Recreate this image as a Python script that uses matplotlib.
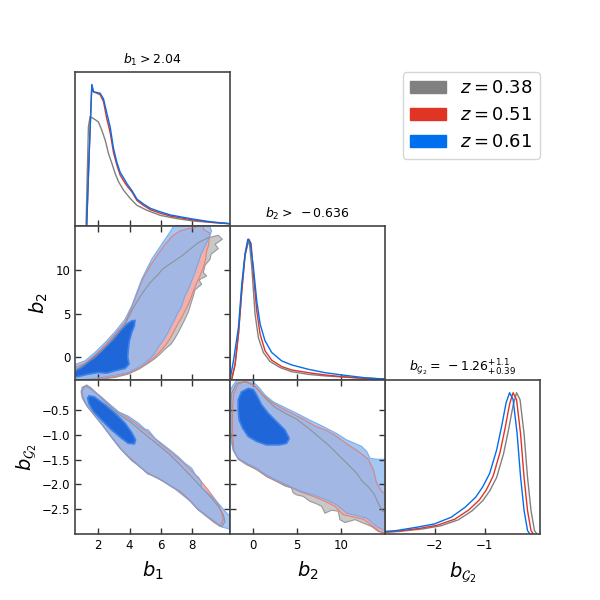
import matplotlib.pyplot as plt
from matplotlib.patches import Patch

# colours for the three redshift bins
labels = ['$z = 0.38$', '$z = 0.51$', '$z = 0.61$']
line_colors = ['#808080', '#E03424', '#006FED']
outer_fill = ['#c8c8c8', '#f2b0a9', '#8ebaf2']
edge_colors = ['#8c8c8c', '#e07a70', '#6aa6f0']

# axis ranges
b1_lim = (0.5, 10.45)
b2_lim = (-2.58, 15.0)
bg2_lim = (-3.0, 0.11)

# ---- 1D marginals (peak normalised to 1) ----
b1_gray_x = [1.21, 1.36, 1.47, 1.68, 2.0, 2.22, 2.44, 2.65, 2.87, 3.08, 3.3, 3.62, 4.05, 4.48, 5.12, 5.98, 7.06, 8.13, 10.5]
b1_gray_y = [0.004, 0.7, 0.773, 0.761, 0.737, 0.678, 0.607, 0.513, 0.442, 0.371, 0.312, 0.253, 0.194, 0.146, 0.111, 0.075, 0.052, 0.035, 0.016]
b1_x = [1.25, 1.42, 1.58, 1.68, 1.90, 2.11, 2.33, 2.54, 2.76, 2.97, 3.19, 3.40, 3.62, 3.83, 4.16, 4.48, 4.91, 5.34, 5.98, 6.63, 7.27, 8.13, 9.21, 10.5]
b1_red_y = [0.0, 0.54, 1.0, 0.95, 0.94, 0.93, 0.88, 0.76, 0.66, 0.52, 0.43, 0.36, 0.32, 0.285, 0.24, 0.18, 0.145, 0.115, 0.09, 0.07, 0.058, 0.042, 0.026, 0.015]
b1_blue_y = [0.004, 0.54, 1.0, 0.95, 0.945, 0.94, 0.90, 0.80, 0.70, 0.55, 0.45, 0.38, 0.34, 0.30, 0.25, 0.19, 0.155, 0.125, 0.10, 0.078, 0.065, 0.048, 0.03, 0.016]

b2_gray_x = [-2.38, -2.0, -1.62, -1.24, -0.87, -0.42, -0.11, 0.26, 0.64, 1.20, 1.96, 3.09, 4.41, 6.29, 8.18, 11.95, 14.97]
b2_gray_y = [0.005, 0.112, 0.326, 0.634, 0.884, 0.996, 0.80, 0.468, 0.30, 0.195, 0.131, 0.088, 0.059, 0.040, 0.029, 0.014, 0.007]
b2_red_x = [-2.38, -2.0, -1.62, -1.24, -0.87, -0.49, -0.19, 0.07, 0.45, 0.83, 1.39, 2.15, 3.28, 4.41, 6.29, 8.18, 10.07, 12.7, 14.97]
b2_red_y = [0.005, 0.112, 0.326, 0.634, 0.884, 0.996, 0.967, 0.753, 0.492, 0.326, 0.207, 0.140, 0.095, 0.071, 0.052, 0.036, 0.024, 0.012, 0.007]
b2_blue_x = [-2.57, -2.19, -1.62, -1.24, -0.87, -0.56, -0.30, 0.07, 0.45, 0.83, 1.39, 2.15, 3.28, 4.41, 6.29, 8.18, 10.07, 12.7, 14.97]
b2_blue_y = [0.005, 0.135, 0.373, 0.682, 0.896, 0.996, 0.979, 0.80, 0.563, 0.397, 0.278, 0.195, 0.135, 0.107, 0.076, 0.052, 0.036, 0.016, 0.007]

bg2_gray_x = [-3.09, -2.72, -2.24, -1.88, -1.53, -1.25, -1.04, -0.90, -0.76, -0.62, -0.52, -0.43, -0.36, -0.29, -0.21, -0.14, -0.07, 0.0, 0.04]
bg2_gray_y = [0.01, 0.018, 0.036, 0.058, 0.1, 0.165, 0.235, 0.305, 0.40, 0.57, 0.74, 0.91, 1.0, 0.95, 0.71, 0.40, 0.165, 0.024, 0.004]
bg2_red_x = [-3.09, -2.75, -2.30, -1.95, -1.60, -1.32, -1.11, -0.97, -0.83, -0.69, -0.59, -0.50, -0.43, -0.36, -0.28, -0.21, -0.14, -0.07, -0.03]
bg2_red_y = [0.012, 0.02, 0.04, 0.062, 0.105, 0.17, 0.24, 0.31, 0.41, 0.58, 0.75, 0.92, 1.0, 0.95, 0.71, 0.40, 0.165, 0.024, 0.004]
bg2_blue_x = [-3.09, -2.78, -2.36, -2.01, -1.67, -1.39, -1.18, -1.04, -0.90, -0.76, -0.66, -0.57, -0.50, -0.43, -0.35, -0.28, -0.21, -0.14, -0.10]
bg2_blue_y = [0.016, 0.024, 0.048, 0.071, 0.119, 0.19, 0.261, 0.333, 0.429, 0.595, 0.762, 0.929, 1.0, 0.952, 0.714, 0.405, 0.167, 0.024, 0.004]

# ---- 2D contours: b1 vs b2 ----
b1b2_gray_x = [0.29, 0.29, 1.78, 3.07, 3.71, 4.25, 4.78, 5.32, 5.85, 6.11, 6.71, 7.35, 7.88, 8.42, 9.06, 9.70, 9.96, 9.49, 9.70, 9.23, 9.17, 8.85, 8.74, 8.95, 8.46, 8.63, 8.20, 8.10, 7.95, 7.78, 7.56, 7.35, 7.13, 6.88, 6.66, 6.28, 5.96, 5.64, 5.21, 4.61, 3.92, 3.07, 2.21, 1.36, 0.5]
b1b2_gray_y = [-3.16, -1.72, -0.01, 2.27, 3.79, 5.69, 7.21, 8.54, 9.49, 10.06, 10.82, 11.58, 12.34, 13.10, 13.67, 13.94, 13.48, 12.91, 12.42, 11.77, 11.20, 10.52, 9.68, 9.30, 8.84, 8.35, 7.70, 7.02, 6.18, 5.20, 4.36, 3.60, 2.84, 2.08, 1.51, 0.94, 0.37, -0.12, -0.66, -1.34, -1.91, -2.29, -2.48, -2.67, -3.16]
b1b2_red_x = [0.29, 0.29, 1.14, 1.78, 2.43, 3.07, 3.71, 4.10, 4.46, 4.84, 5.25, 5.74, 6.24, 6.75, 7.24, 7.78, 8.20, 8.46, 8.74, 8.74, 9.17, 9.06, 8.95, 8.89, 8.74, 8.52, 8.31, 8.10, 7.95, 7.78, 7.56, 7.35, 7.09, 6.83, 6.58, 6.28, 5.94, 5.59, 5.17, 4.61, 3.92, 3.07, 2.21, 1.36, 0.5]
b1b2_red_y = [-3.05, -1.34, -0.66, 0.26, 1.40, 2.65, 3.98, 5.50, 7.21, 8.92, 10.25, 11.58, 12.80, 13.86, 14.43, 14.70, 14.81, 15.38, 15.38, 14.62, 14.16, 12.72, 12.15, 11.20, 10.25, 9.30, 8.46, 7.59, 6.83, 6.07, 5.31, 4.55, 3.79, 2.92, 2.08, 1.32, 0.64, -0.01, -0.58, -1.26, -1.83, -2.18, -2.40, -2.59, -3.05]
b1b2_blue_x = [0.29, 0.29, 1.14, 1.78, 2.43, 3.07, 3.71, 4.14, 4.46, 4.78, 5.10, 5.42, 5.85, 6.28, 6.71, 6.92, 9.06, 9.27, 9.06, 8.85, 8.59, 8.42, 8.20, 7.99, 7.78, 7.56, 7.35, 7.09, 6.88, 6.66, 6.45, 6.19, 5.89, 5.59, 5.17, 4.57, 3.92, 3.07, 2.21, 1.36, 0.5]
b1b2_blue_y = [-2.86, -0.96, -0.39, 0.56, 1.70, 2.92, 4.36, 5.88, 7.40, 8.92, 10.06, 11.2, 12.34, 13.48, 14.62, 15.38, 15.38, 14.43, 13.48, 12.72, 11.77, 10.82, 9.68, 8.73, 7.78, 7.02, 5.88, 5.04, 4.28, 3.52, 2.76, 2.00, 1.24, 0.37, -0.39, -1.15, -1.72, -2.02, -2.29, -2.48, -2.86]
b1b2_core_x = [0.29, 0.93, 1.57, 2.21, 2.85, 3.39, 3.82, 4.14, 4.35, 4.31, 4.14, 3.99, 3.92, 3.88, 3.97, 3.71, 3.07, 2.53, 2.00, 1.36, 0.71, 0.29]
b1b2_core_y = [-1.72, -1.15, -0.20, 0.75, 1.89, 3.03, 3.79, 4.17, 4.21, 3.60, 2.84, 1.89, 0.94, -0.01, -0.77, -1.26, -1.53, -1.80, -1.72, -1.91, -2.18, -2.29]

# ---- 2D contours: b1 vs bG2 ----
b1bg2_gray_x = [0.97, 1.25, 1.57, 2.11, 2.75, 3.39, 4.03, 4.67, 5.32, 5.96, 6.60, 7.24, 7.88, 8.53, 9.17, 9.70, 10.02, 10.13, 9.92, 9.38, 8.85, 8.31, 7.78, 7.24, 6.66, 6.11, 5.59, 5.04, 4.52, 3.97, 3.45, 2.90, 2.25, 1.68, 1.25, 0.97, 0.89]
b1bg2_gray_y = [-0.04, 0.01, -0.06, -0.23, -0.43, -0.60, -0.73, -0.90, -1.07, -1.23, -1.40, -1.60, -1.81, -2.03, -2.24, -2.44, -2.61, -2.75, -2.85, -2.75, -2.61, -2.48, -2.30, -2.14, -2.03, -1.92, -1.84, -1.74, -1.60, -1.45, -1.29, -1.07, -0.80, -0.58, -0.41, -0.26, -0.13]
b1bg2_red_x = [1.04, 1.25, 1.57, 2.11, 2.75, 3.39, 4.03, 4.67, 5.32, 5.96, 6.60, 7.24, 7.88, 8.53, 9.17, 9.70, 9.92, 10.02, 9.81, 9.49, 8.95, 8.38, 7.88, 7.35, 6.71, 6.17, 5.64, 5.10, 4.57, 4.03, 3.50, 2.96, 2.32, 1.74, 1.31, 1.04, 0.93]
b1bg2_red_y = [-0.04, -0.01, -0.08, -0.21, -0.39, -0.56, -0.68, -0.83, -0.98, -1.17, -1.33, -1.50, -1.69, -1.91, -2.16, -2.39, -2.58, -2.71, -2.85, -2.78, -2.65, -2.50, -2.32, -2.17, -2.05, -1.94, -1.85, -1.76, -1.62, -1.47, -1.30, -1.09, -0.82, -0.60, -0.43, -0.26, -0.13]
b1bg2_blue_x = [0.97, 1.14, 1.36, 2.00, 2.64, 3.28, 3.92, 4.57, 4.99, 5.21, 5.64, 6.06, 6.71, 7.13, 7.56, 7.99, 8.25, 8.42, 8.59, 8.63, 8.89, 9.27, 9.70, 10.13, 10.56, 10.56, 9.92, 9.49, 8.95, 8.42, 7.99, 7.39, 6.92, 6.28, 5.74, 5.17, 4.78, 4.14, 3.71, 3.28, 2.85, 2.21, 1.68, 1.25, 0.97]
b1bg2_blue_y = [-0.09, -0.02, -0.04, -0.19, -0.36, -0.53, -0.62, -0.76, -0.88, -0.90, -1.07, -1.17, -1.33, -1.44, -1.57, -1.67, -1.81, -1.85, -1.94, -2.07, -2.14, -2.24, -2.38, -2.54, -2.68, -2.91, -2.86, -2.75, -2.63, -2.52, -2.36, -2.21, -2.09, -1.96, -1.85, -1.79, -1.67, -1.52, -1.38, -1.23, -1.05, -0.78, -0.56, -0.39, -0.23]
b1bg2_core_x = [1.40, 1.74, 2.43, 3.07, 3.71, 4.14, 4.39, 4.31, 3.92, 3.50, 2.85, 2.21, 1.68, 1.40, 1.31]
b1bg2_core_y = [-0.21, -0.23, -0.39, -0.56, -0.76, -0.95, -1.10, -1.18, -1.17, -1.07, -0.90, -0.70, -0.53, -0.37, -0.26]

# ---- 2D contours: b2 vs bG2 ----
b2bg2_gray_x = [-2.49, -2.41, -1.84, -0.90, 0.05, 0.81, 1.56, 2.51, 3.65, 4.97, 6.29, 7.43, 8.57, 9.70, 10.84, 11.78, 12.35, 13.11, 13.75, 14.24, 14.74, 15.19, 15.19, 14.24, 13.49, 12.54, 11.59, 10.46, 9.89, 9.70, 8.94, 8.19, 7.81, 7.24, 6.48, 5.73, 4.97, 4.59, 4.40, 3.65, 2.70, 1.56, 0.43, -0.71, -1.65, -2.22, -2.49]
b2bg2_gray_y = [-0.43, -0.16, 0.04, 0.08, 0.01, -0.13, -0.28, -0.44, -0.56, -0.68, -0.86, -1.03, -1.20, -1.40, -1.60, -1.77, -1.92, -2.05, -2.19, -2.38, -2.54, -2.58, -2.99, -2.95, -2.85, -2.78, -2.71, -2.77, -2.71, -2.54, -2.52, -2.58, -2.44, -2.39, -2.34, -2.24, -2.21, -2.17, -2.07, -2.03, -1.94, -1.84, -1.70, -1.60, -1.49, -1.31, -0.90]
b2bg2_red_x = [-2.30, -2.15, -1.65, -0.71, 0.24, 1.00, 1.94, 3.08, 4.40, 5.73, 7.05, 8.38, 9.51, 10.84, 11.97, 13.11, 13.68, 14.05, 14.62, 15.19, 15.19, 14.43, 13.68, 12.54, 11.40, 10.27, 9.32, 8.19, 6.86, 5.54, 4.21, 2.70, 1.56, 0.43, -0.71, -1.65, -2.15, -2.30]
b2bg2_red_y = [-0.43, -0.16, 0.03, 0.08, -0.01, -0.16, -0.31, -0.44, -0.56, -0.68, -0.82, -0.91, -1.03, -1.20, -1.33, -1.49, -1.70, -1.97, -2.14, -2.21, -2.99, -2.95, -2.85, -2.70, -2.66, -2.61, -2.44, -2.34, -2.24, -2.16, -2.05, -1.93, -1.83, -1.69, -1.58, -1.48, -1.31, -0.90]
b2bg2_blue_x = [-2.79, -2.79, -2.22, -1.65, 0.05, 0.24, 0.81, 1.37, 2.32, 3.46, 4.97, 6.48, 8.00, 9.51, 10.65, 11.59, 12.35, 12.92, 13.30, 14.05, 15.19, 15.19, 14.05, 12.92, 11.78, 10.65, 9.51, 8.38, 6.86, 5.54, 4.21, 2.70, 1.56, 0.43, -0.71, -1.65, -2.22, -2.6]
b2bg2_blue_y = [-1.50, -0.16, 0.01, 0.14, 0.14, 0.04, -0.06, -0.19, -0.33, -0.43, -0.56, -0.70, -0.83, -0.97, -1.10, -1.17, -1.23, -1.33, -1.47, -1.49, -1.49, -2.95, -2.85, -2.68, -2.63, -2.58, -2.41, -2.31, -2.21, -2.14, -2.04, -1.91, -1.81, -1.67, -1.57, -1.47, -1.30, -1.03]
b2bg2_core_x = [-1.65, -1.28, -0.52, 0.05, 0.43, 1.00, 1.75, 2.70, 3.65, 4.14, 3.83, 3.08, 1.56, 0.43, -0.52, -1.16, -1.54, -1.65]
b2bg2_core_y = [-0.29, -0.13, -0.06, -0.08, -0.19, -0.39, -0.56, -0.73, -0.90, -1.07, -1.17, -1.20, -1.20, -1.13, -1.03, -0.86, -0.70, -0.49]

titles = [r'$b_1 > 2.04$', r'$b_2 > \;-0.636$', r'$b_{\mathcal{G}_2} = \;-1.26^{+1.1}_{+0.39}$']


def style(ax, full=True):
    for s in ax.spines.values():
        s.set_color('#444444')
        s.set_linewidth(1.2)
    ax.tick_params(direction='in', length=4, width=1, color='#333333',
                   labelsize=8.5, top=full, right=full)


def draw_1d(ax, curves, xlim, title):
    for (x, y), c in zip(curves, line_colors):
        ax.plot(x, y, color=c, lw=1.0)
    ax.set_xlim(*xlim)
    ax.set_ylim(0, 1.09)
    ax.set_yticks([])
    ax.set_title(title, fontsize=9, pad=6)
    style(ax, full=False)
    ax.tick_params(labelbottom=False)


def draw_2d(ax, outer, core, xlim, ylim):
    for i, (x, y) in enumerate(outer):
        alpha = 0.8 if i == 2 else 1.0
        ax.fill(x, y, color=outer_fill[i], alpha=alpha, lw=0)
    for i, (x, y) in enumerate(outer):
        ax.plot(list(x) + [x[0]], list(y) + [y[0]], color=edge_colors[i], lw=0.8, alpha=0.85)
    ax.fill(core[0], core[1], color='#1f66d8', lw=1.2, ec='#3b82ea')
    ax.set_xlim(*xlim)
    ax.set_ylim(*ylim)
    style(ax)


fig = plt.figure(figsize=(6, 6), dpi=100)
gs = fig.add_gridspec(3, 3, left=0.125, right=0.9, top=0.88, bottom=0.11, hspace=0, wspace=0)

ax = fig.add_subplot(gs[0, 0])
draw_1d(ax, [(b1_gray_x, b1_gray_y), (b1_x, b1_red_y), (b1_x, b1_blue_y)], b1_lim, titles[0])
ax.set_xticks([2, 4, 6, 8])

ax = fig.add_subplot(gs[1, 1])
draw_1d(ax, [(b2_gray_x, b2_gray_y), (b2_red_x, b2_red_y), (b2_blue_x, b2_blue_y)], b2_lim, titles[1])
ax.set_xticks([0, 5, 10])

ax = fig.add_subplot(gs[2, 2])
draw_1d(ax, [(bg2_gray_x, bg2_gray_y), (bg2_red_x, bg2_red_y), (bg2_blue_x, bg2_blue_y)], bg2_lim, titles[2])
ax.set_xticks([-2, -1])
ax.tick_params(labelbottom=True)
ax.set_xlabel(r'$b_{\mathcal{G}_2}$', fontsize=14, labelpad=6)

ax = fig.add_subplot(gs[1, 0])
draw_2d(ax, [(b1b2_gray_x, b1b2_gray_y), (b1b2_red_x, b1b2_red_y), (b1b2_blue_x, b1b2_blue_y)],
        (b1b2_core_x, b1b2_core_y), b1_lim, b2_lim)
ax.set_xticks([2, 4, 6, 8])
ax.set_yticks([0, 5, 10])
ax.tick_params(labelbottom=False)
ax.set_ylabel(r'$b_2$', fontsize=14)

ax = fig.add_subplot(gs[2, 0])
draw_2d(ax, [(b1bg2_gray_x, b1bg2_gray_y), (b1bg2_red_x, b1bg2_red_y), (b1bg2_blue_x, b1bg2_blue_y)],
        (b1bg2_core_x, b1bg2_core_y), b1_lim, bg2_lim)
ax.set_xticks([2, 4, 6, 8])
ax.set_yticks([-2.5, -2.0, -1.5, -1.0, -0.5])
ax.set_xlabel(r'$b_1$', fontsize=14, labelpad=6)
ax.set_ylabel(r'$b_{\mathcal{G}_2}$', fontsize=14, labelpad=2)

ax = fig.add_subplot(gs[2, 1])
draw_2d(ax, [(b2bg2_gray_x, b2bg2_gray_y), (b2bg2_red_x, b2bg2_red_y), (b2bg2_blue_x, b2bg2_blue_y)],
        (b2bg2_core_x, b2bg2_core_y), b2_lim, bg2_lim)
ax.set_xticks([0, 5, 10])
ax.set_yticks([-2.5, -2.0, -1.5, -1.0, -0.5])
ax.tick_params(labelleft=False)
ax.set_xlabel(r'$b_2$', fontsize=14, labelpad=6)

handles = [Patch(color=c) for c in line_colors]
fig.legend(handles, labels, loc='upper right', bbox_to_anchor=(0.9, 0.88),
           borderaxespad=0, fontsize=13)

fig.savefig('out.png', dpi=100)
